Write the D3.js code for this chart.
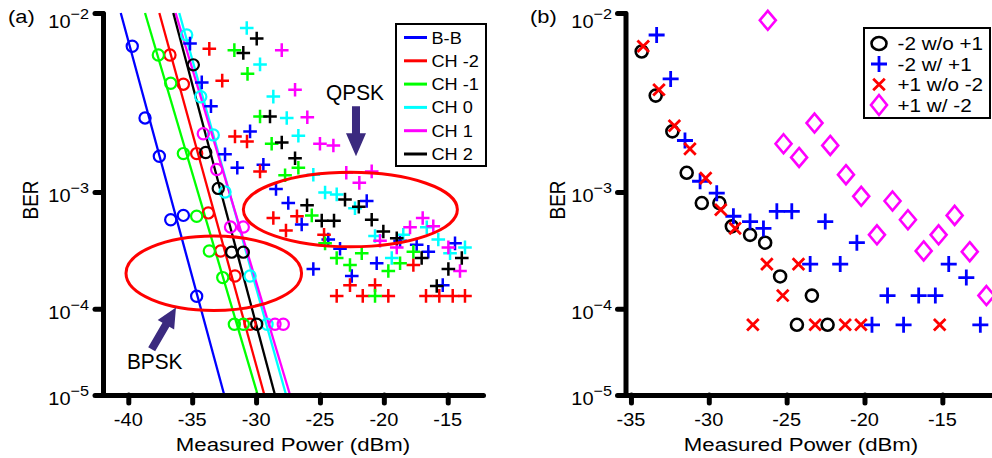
<!DOCTYPE html>
<html>
<head>
<meta charset="utf-8">
<script src="https://cdn.jsdelivr.net/npm/d3@7"></script>
<style>
  body { margin: 0; background: #fff; }
  svg { display: block; }
  text { font-family: "Liberation Sans", Arial, Helvetica, sans-serif; fill: #000; }
</style>
</head>
<body>
<svg id="chart" width="992" height="458"></svg>
<script>
// ---------------- data ----------------
const berTicks = [1e-2, 1e-3, 1e-4, 1e-5];
const berTickExp = ["\u22122", "\u22123", "\u22124", "\u22125"];
const powerTicksA = [-40, -35, -30, -25, -20, -15];
const powerTicksB = [-35, -30, -25, -20, -15];

const channelNames = ["B-B", "CH -2", "CH -1", "CH 0", "CH 1", "CH 2"];

// BPSK measurements: [power dBm, BER]
const bpskBB   = [[-39.69,7.1e-3],[-38.69,3.0e-3],[-37.57,1.75e-3],[-36.68,6.2e-4],[-35.69,6.7e-4],[-34.65,1.33e-4]];
const bpskCHm2 = [[-36.74,6.45e-3],[-35.69,4.6e-3],[-34.65,1.82e-3],[-33.74,7.0e-4],[-32.77,3.45e-4],[-31.65,2.07e-4],[-30.47,6.9e-5]];
const bpskCHm1 = [[-37.65,6.45e-3],[-36.68,4.65e-3],[-35.69,1.82e-3],[-34.65,6.6e-4],[-33.66,3.45e-4],[-32.61,2.0e-4],[-31.70,6.9e-5],[-31.0,6.9e-5]];
const bpskCH0  = [[-35.43,8.0e-3],[-34.33,3.94e-3],[-33.35,2.38e-3],[-32.43,1.0e-3],[-30.47,2.07e-4],[-29.14,6.9e-5]];
const bpskCH1  = [[-34.13,2.42e-3],[-33.08,1.43e-3],[-32.0,5.43e-4],[-31.0,5.43e-4],[-28.52,6.9e-5],[-27.87,6.9e-5]];
const bpskCH2  = [[-34.91,5.77e-3],[-33.94,1.85e-3],[-32.96,1.06e-3],[-31.91,3.37e-4],[-31.0,3.37e-4],[-29.95,6.9e-5]];

// QPSK measurements: [power dBm, BER]
const qpskBB   = [[-35.17,7.3e-3],[-34.25,4.7e-3],[-33.53,3.5e-3],[-30.47,2.5e-3],[-32.43,1.8e-3],[-31.47,1.47e-3],[-29.43,1.54e-3],
                  [-28.44,1.05e-3],[-27.48,8.3e-4],[-26.43,5.7e-4],[-21.34,8.6e-4],[-25.52,2.4e-4],[-24.35,4.3e-4],[-23.43,3.6e-4],
                  [-22.51,2.07e-4],[-20.56,2.7e-4],[-18.73,4.2e-4],[-17.43,3.9e-4],[-16.52,3.4e-4],[-14.43,4.0e-4],[-15.39,1.7e-4]];
const qpskCHm2 = [[-33.66,6.9e-3],[-32.65,4.8e-3],[-31.65,2.33e-3],[-30.71,2.17e-3],[-29.69,1.39e-3],[-28.65,6.4e-4],[-26.80,6.6e-4],
                  [-27.66,5.1e-4],[-24.68,4.7e-4],[-22.65,1.7e-4],[-20.69,1.7e-4],[-17.69,2.6e-4],[-23.69,1.34e-4],[-21.65,1.34e-4],
                  [-19.65,1.34e-4],[-16.70,1.34e-4],[-15.66,1.34e-4],[-14.61,1.34e-4],[-13.65,1.34e-4]];
const qpskCHm1 = [[-31.70,6.8e-3],[-30.67,5.2e-3],[-29.69,3.06e-3],[-28.78,2.1e-3],[-27.73,1.31e-3],[-26.69,1.47e-3],[-25.64,6.7e-4],
                  [-24.60,4.0e-4],[-23.69,3.0e-4],[-22.65,2.6e-4],[-21.73,3.3e-4],[-20.69,1.34e-4],[-19.65,2.3e-4],[-18.73,2.7e-4],[-17.69,3.4e-4]];
const qpskCH0  = [[-30.73,8.6e-3],[-29.69,5.8e-3],[-28.65,3.95e-3],[-27.60,3.0e-3],[-26.69,2.35e-3],[-25.52,1.32e-3],[-24.60,9.9e-4],
                  [-23.69,9.6e-4],[-22.26,7.6e-4],[-20.69,4.6e-4],[-18.48,4.7e-4],[-16.64,5.4e-4],[-15.74,4.3e-4],[-19.38,3.0e-4],
                  [-14.82,3.3e-4],[-13.65,3.7e-4]];
const qpskCH1  = [[-27.99,6.8e-3],[-26.95,4.3e-3],[-25.99,3.03e-3],[-25.00,2.1e-3],[-23.95,2.05e-3],[-22.94,1.36e-3],[-20.95,1.39e-3],
                  [-21.92,1.16e-3],[-16.96,6.4e-4],[-17.95,5.4e-4],[-16.13,5.5e-4],[-20.30,4.2e-4],[-18.99,3.7e-4],[-14.95,3.7e-4],[-14.04,2.3e-4]];
const qpskCH2  = [[-29.95,7.7e-3],[-31.00,6.6e-3],[-28.91,3.06e-3],[-27.99,2.14e-3],[-26.95,1.7e-3],[-26.01,8.0e-4],[-24.86,6.1e-4],
                  [-23.90,6.1e-4],[-23.04,8.8e-4],[-21.96,7.8e-4],[-20.95,6.2e-4],[-20.04,5.0e-4],[-18.99,4.4e-4],[-17.04,3.0e-4],
                  [-14.95,2.4e-4],[-13.90,3.0e-4],[-15.86,1.67e-4]];

// BPSK fitted lines: endpoints [power dBm, BER]
const fitBB   = [[-40.59,1e-2],[-32.49,1e-5]];
const fitCHm2 = [[-37.57,1e-2],[-29.35,1e-5]];
const fitCHm1 = [[-38.69,1e-2],[-29.87,1e-5]];
const fitCH0  = [[-36.01,1e-2],[-27.65,1e-5]];
const fitCH1  = [[-36.30,1e-2],[-27.34,1e-5]];
const fitCH2  = [[-36.48,1e-2],[-28.52,1e-5]];

// panel (b): CH -2 and CH +1 with / without the other channel
const seriesNamesB = ["-2 w/o +1", "-2 w/ +1", "+1 w/o -2", "+1 w/ -2"];
const m2WithoutP1 = [[-34.31,6.7e-3],[-33.41,4.0e-3],[-32.34,2.5e-3],[-31.42,1.36e-3],[-30.45,8.3e-4],[-29.32,8.3e-4],[-28.52,5.5e-4],
                     [-27.35,4.7e-4],[-26.38,4.05e-4],[-25.42,2.05e-4],[-24.34,6.8e-5],[-23.38,1.35e-4],[-22.37,6.8e-5]];
const m2WithP1    = [[-33.35,8.0e-3],[-32.45,4.9e-3],[-31.53,2.2e-3],[-30.56,1.19e-3],[-29.49,9.8e-4],[-28.42,6.6e-4],[-27.35,6.0e-4],
                     [-26.49,5.3e-4],[-25.63,7.2e-4],[-24.67,7.2e-4],[-23.49,2.65e-4],[-22.52,6.0e-4],[-21.56,2.65e-4],[-20.49,4.05e-4],
                     [-19.52,6.8e-5],[-18.52,1.35e-4],[-17.49,6.8e-5],[-16.52,1.35e-4],[-15.45,1.35e-4],[-14.59,2.65e-4],[-13.46,2.0e-4],[-12.56,6.8e-5]];
const p1WithoutM2 = [[-34.21,7.1e-3],[-33.20,4.3e-3],[-32.21,2.7e-3],[-31.21,1.95e-3],[-30.20,1.25e-3],[-29.23,7.4e-4],[-28.31,5.3e-4],
                     [-27.17,6.8e-5],[-26.27,2.65e-4],[-25.25,1.35e-4],[-24.24,2.65e-4],[-23.17,6.8e-5],[-21.24,6.8e-5],[-20.23,6.8e-5],[-15.17,6.8e-5]];
const p1WithM2    = [[-26.21,9.3e-3],[-25.20,2.1e-3],[-24.20,1.72e-3],[-23.21,2.8e-3],[-22.20,2.05e-3],[-21.19,1.32e-3],[-20.21,9.3e-4],
                     [-19.20,4.7e-4],[-18.20,8.6e-4],[-17.21,6.2e-4],[-16.20,3.45e-4],[-15.24,4.7e-4],[-14.21,6.7e-4],[-13.24,3.4e-4],[-12.17,1.35e-4]];

// annotation regions (power dBm / BER)
const bpskRegion = { power: -33.31, halfSpan: 6.87, berTop: 4.6e-4, berBottom: 9.6e-5 };
const qpskRegion = { power: -22.62, halfSpan: 8.375, berTop: 1.37e-3, berBottom: 3.74e-4 };
const bpskArrow = [[-38.17,3.65e-5],[-36.27,1.03e-4]];
const qpskArrow = [[-22.18,3.5e-3],[-22.18,1.75e-3]];

// ---------------- styles ----------------
const channelColors = ["#0000ff", "#ff0000", "#00ff00", "#00ffff", "#ff00ff", "#000000"];
const bpskSets = [bpskBB, bpskCHm2, bpskCHm1, bpskCH0, bpskCH1, bpskCH2];
const qpskSets = [qpskBB, qpskCHm2, qpskCHm1, qpskCH0, qpskCH1, qpskCH2];
const fitSets  = [fitBB, fitCHm2, fitCHm1, fitCH0, fitCH1, fitCH2];
const arrowColor = "#3b2a7f";

// ---------------- scales ----------------
// inverse standard normal CDF (Acklam)
function normInv(p) {
  const a = [-3.969683028665376e+01, 2.209460984245205e+02, -2.759285104469687e+02, 1.383577518672690e+02, -3.066479806614716e+01, 2.506628277459239e+00];
  const b = [-5.447609879822406e+01, 1.615858368580409e+02, -1.556989798598866e+02, 6.680131188771972e+01, -1.328068155288572e+01];
  const c = [-7.784894002430293e-03, -3.223964580411365e-01, -2.400758277161838e+00, -2.549732539343734e+00, 4.374664141464968e+00, 2.938163982698783e+00];
  const d = [7.784695709041462e-03, 3.224671290700398e-01, 2.445134137142996e+00, 3.754408661907416e+00];
  const pl = 0.02425;
  if (p < pl) {
    const q = Math.sqrt(-2 * Math.log(p));
    return (((((c[0]*q + c[1])*q + c[2])*q + c[3])*q + c[4])*q + c[5]) / ((((d[0]*q + d[1])*q + d[2])*q + d[3])*q + 1);
  }
  if (p <= 1 - pl) {
    const q = p - 0.5, r = q * q;
    return (((((a[0]*r + a[1])*r + a[2])*r + a[3])*r + a[4])*r + a[5])*q / (((((b[0]*r + b[1])*r + b[2])*r + b[3])*r + b[4])*r + 1);
  }
  const q = Math.sqrt(-2 * Math.log(1 - p));
  return -(((((c[0]*q + c[1])*q + c[2])*q + c[3])*q + c[4])*q + c[5]) / ((((d[0]*q + d[1])*q + d[2])*q + d[3])*q + 1);
}
// BER axis is linear in log10 of the Q factor
const T = ber => Math.log10(-normInv(ber));

const TOP = 13, BOTTOM = 395;
const yT = d3.scaleLinear().domain([T(1e-2), T(1e-5)]).range([TOP, BOTTOM]);
const yOf = ber => yT(T(ber));

const xA = d3.scaleLinear().domain([-41.98, -12.24]).range([103, 483]);
const xB = d3.scaleLinear().domain([-35.35, -11.83]).range([625.5, 991.7]);

// ---------------- helpers ----------------
const svg = d3.select("#chart");

function stext(g, str, x, y, size, sx, anchor) {
  return g.append("text")
    .attr("transform", `translate(${x},${y}) scale(${sx},1)`)
    .attr("font-size", size)
    .attr("text-anchor", anchor || "start")
    .text(str);
}
const plusPath = a => `M${-a},0H${a}M0,${-a}V${a}`;
const crossPath = a => `M${-a},${-a}L${a},${a}M${-a},${a}L${a},${-a}`;
const diamondPath = (w, h) => `M0,${-h}L${w},0L0,${h}L${-w},0Z`;

function drawAxes(g, x, ticks, axisX, labelRight) {
  const ya = g.append("g").attr("transform", `translate(${axisX},0)`)
    .call(d3.axisLeft(yT).tickValues(berTicks.map(T)).tickSize(8).tickSizeOuter(0).tickFormat(""));
  const xa = g.append("g").attr("transform", `translate(0,${BOTTOM})`)
    .call(d3.axisBottom(x).tickValues(ticks).tickSize(8).tickSizeOuter(0).tickFormat(""));
  [ya, xa].forEach(a => {
    a.select(".domain").attr("stroke", "#000").attr("stroke-width", 5).attr("stroke-linecap", "round");
    a.selectAll(".tick line").attr("stroke", "#000").attr("stroke-width", 5).attr("stroke-linecap", "round");
  });
  // BER tick labels 10^-n
  berTicks.forEach((b, i) => {
    const yy = Math.max(yOf(b) + 10, 28);
    const t = g.append("text")
      .attr("transform", `translate(${labelRight},${yy}) scale(1.08,1)`)
      .attr("text-anchor", "end");
    t.append("tspan").attr("font-size", 18.5).text("10");
    t.append("tspan").attr("font-size", 15).attr("dy", -9).text(berTickExp[i]);
  });
  // power tick labels
  ticks.forEach(v => stext(g, String(v).replace("-", "-"), x(v), 425.5, 18.5, 1.08, "middle"));
}

function arrowShape(x1, y1, x2, y2, shaftW, headW, headL) {
  const dx = x2 - x1, dy = y2 - y1, L = Math.hypot(dx, dy);
  const ux = dx / L, uy = dy / L, nx = -uy, ny = ux;
  const bx = x2 - ux * headL, by = y2 - uy * headL;
  const pts = [
    [x1 + nx * shaftW / 2, y1 + ny * shaftW / 2],
    [bx + nx * shaftW / 2, by + ny * shaftW / 2],
    [bx + nx * headW / 2, by + ny * headW / 2],
    [x2, y2],
    [bx - nx * headW / 2, by - ny * headW / 2],
    [bx - nx * shaftW / 2, by - ny * shaftW / 2],
    [x1 - nx * shaftW / 2, y1 - ny * shaftW / 2]
  ];
  return "M" + pts.map(p => p.join(",")).join("L") + "Z";
}

// ================= panel (a) =================
const gA = svg.append("g");

// fitted BPSK lines
const line = d3.line().x(d => xA(d[0])).y(d => yOf(d[1]));
fitSets.forEach((s, i) => {
  gA.append("path").attr("d", line(s)).attr("fill", "none")
    .attr("stroke", channelColors[i]).attr("stroke-width", 2.3);
});

// BPSK circles
bpskSets.forEach((s, i) => {
  gA.append("g").selectAll("circle").data(s).join("circle")
    .attr("cx", d => xA(d[0])).attr("cy", d => yOf(d[1])).attr("r", 5.6)
    .attr("fill", "none").attr("stroke", channelColors[i]).attr("stroke-width", 2.2);
});

// QPSK plus markers
qpskSets.forEach((s, i) => {
  gA.append("g").selectAll("path").data(s).join("path")
    .attr("transform", d => `translate(${xA(d[0])},${yOf(d[1])})`)
    .attr("d", plusPath(6.8))
    .attr("fill", "none").attr("stroke", channelColors[i]).attr("stroke-width", 2.5);
});

drawAxes(gA, xA, powerTicksA, 103, 89);

// region ellipses
[bpskRegion, qpskRegion].forEach(r => {
  const cx = xA(r.power);
  const top = yOf(r.berTop), bot = yOf(r.berBottom);
  gA.append("ellipse")
    .attr("cx", cx).attr("cy", (top + bot) / 2)
    .attr("rx", xA(r.power + r.halfSpan) - cx).attr("ry", (bot - top) / 2)
    .attr("fill", "none").attr("stroke", "#ff0000").attr("stroke-width", 3);
});

// arrows and labels
{
  const [p, q] = bpskArrow;
  const x1 = xA(p[0]), y1 = yOf(p[1]), x2 = xA(q[0]), y2 = yOf(q[1]);
  gA.append("path").attr("d", arrowShape(x1, y1, x2, y2, 8, 19, 20)).attr("fill", arrowColor);
  stext(gA, "BPSK", x1 + 3, y1 + 20, 21.5, 0.97, "middle");
}
{
  const [p, q] = qpskArrow;
  const x1 = xA(p[0]), y1 = yOf(p[1]), x2 = xA(q[0]), y2 = yOf(q[1]);
  gA.append("path").attr("d", arrowShape(x1, y1, x2, y2, 8, 20, 23)).attr("fill", arrowColor);
  stext(gA, "QPSK", x1 - 1, y1 - 6, 21.5, 0.97, "middle");
}

// legend (a)
{
  const lg = gA.append("g");
  lg.append("rect").attr("x", 396).attr("y", 24).attr("width", 90).attr("height", 142)
    .attr("fill", "#fff").attr("stroke", "#000").attr("stroke-width", 2);
  channelNames.forEach((n, i) => {
    const yy = 37.5 + i * 23.3;
    lg.append("line").attr("x1", 404).attr("x2", 427).attr("y1", yy).attr("y2", yy)
      .attr("stroke", channelColors[i]).attr("stroke-width", 3);
    stext(lg, n, 431.5, yy + 6, 16.5, 1.1, "start");
  });
}

// titles (a)
stext(gA, "Measured Power (dBm)", 293, 451, 18.5, 1.2, "middle");
gA.append("text").attr("transform", "translate(38,200) scale(1.15,1) rotate(-90)")
  .attr("font-size", 19).attr("text-anchor", "middle").text("BER");
stext(gA, "(a)", 8, 23, 19, 1.15, "start");

// ================= panel (b) =================
const gB = svg.append("g");
drawAxes(gB, xB, powerTicksB, 625.5, 612);

gB.append("g").selectAll("circle").data(m2WithoutP1).join("circle")
  .attr("cx", d => xB(d[0])).attr("cy", d => yOf(d[1])).attr("r", 6)
  .attr("fill", "none").attr("stroke", "#000").attr("stroke-width", 2.6);
gB.append("g").selectAll("path").data(m2WithP1).join("path")
  .attr("transform", d => `translate(${xB(d[0])},${yOf(d[1])})`).attr("d", plusPath(8))
  .attr("fill", "none").attr("stroke", "#0000ff").attr("stroke-width", 2.8);
gB.append("g").selectAll("path").data(p1WithoutM2).join("path")
  .attr("transform", d => `translate(${xB(d[0])},${yOf(d[1])})`).attr("d", crossPath(5.8))
  .attr("fill", "none").attr("stroke", "#ff0000").attr("stroke-width", 2.8);
gB.append("g").selectAll("path").data(p1WithM2).join("path")
  .attr("transform", d => `translate(${xB(d[0])},${yOf(d[1])})`).attr("d", diamondPath(8, 9.5))
  .attr("fill", "none").attr("stroke", "#ff00ff").attr("stroke-width", 2.6);

// legend (b)
{
  const lg = gB.append("g");
  lg.append("rect").attr("x", 864).attr("y", 28).attr("width", 126).attr("height", 90)
    .attr("fill", "#fff").attr("stroke", "#000").attr("stroke-width", 2);
  const cx = 879;
  const rows = seriesNamesB.map((n, i) => 43.5 + i * 20.5);
  lg.append("ellipse").attr("cx", cx).attr("cy", rows[0]).attr("rx", 7.5).attr("ry", 6.5)
    .attr("fill", "none").attr("stroke", "#000").attr("stroke-width", 2.6);
  lg.append("path").attr("transform", `translate(${cx},${rows[1]})`).attr("d", plusPath(8))
    .attr("fill", "none").attr("stroke", "#0000ff").attr("stroke-width", 2.8);
  lg.append("path").attr("transform", `translate(${cx},${rows[2]})`).attr("d", crossPath(5.8))
    .attr("fill", "none").attr("stroke", "#ff0000").attr("stroke-width", 2.8);
  lg.append("path").attr("transform", `translate(${cx},${rows[3]})`).attr("d", diamondPath(8, 10))
    .attr("fill", "none").attr("stroke", "#ff00ff").attr("stroke-width", 2.6);
  seriesNamesB.forEach((n, i) => stext(lg, n, 897.5, rows[i] + 6.5, 18, 1.15, "start"));
}

stext(gB, "Measured Power (dBm)", 801, 451, 18.5, 1.2, "middle");
gB.append("text").attr("transform", "translate(565,200) scale(1.15,1) rotate(-90)")
  .attr("font-size", 19).attr("text-anchor", "middle").text("BER");
stext(gB, "(b)", 530, 23, 19, 1.15, "start");
</script>
</body>
</html>
